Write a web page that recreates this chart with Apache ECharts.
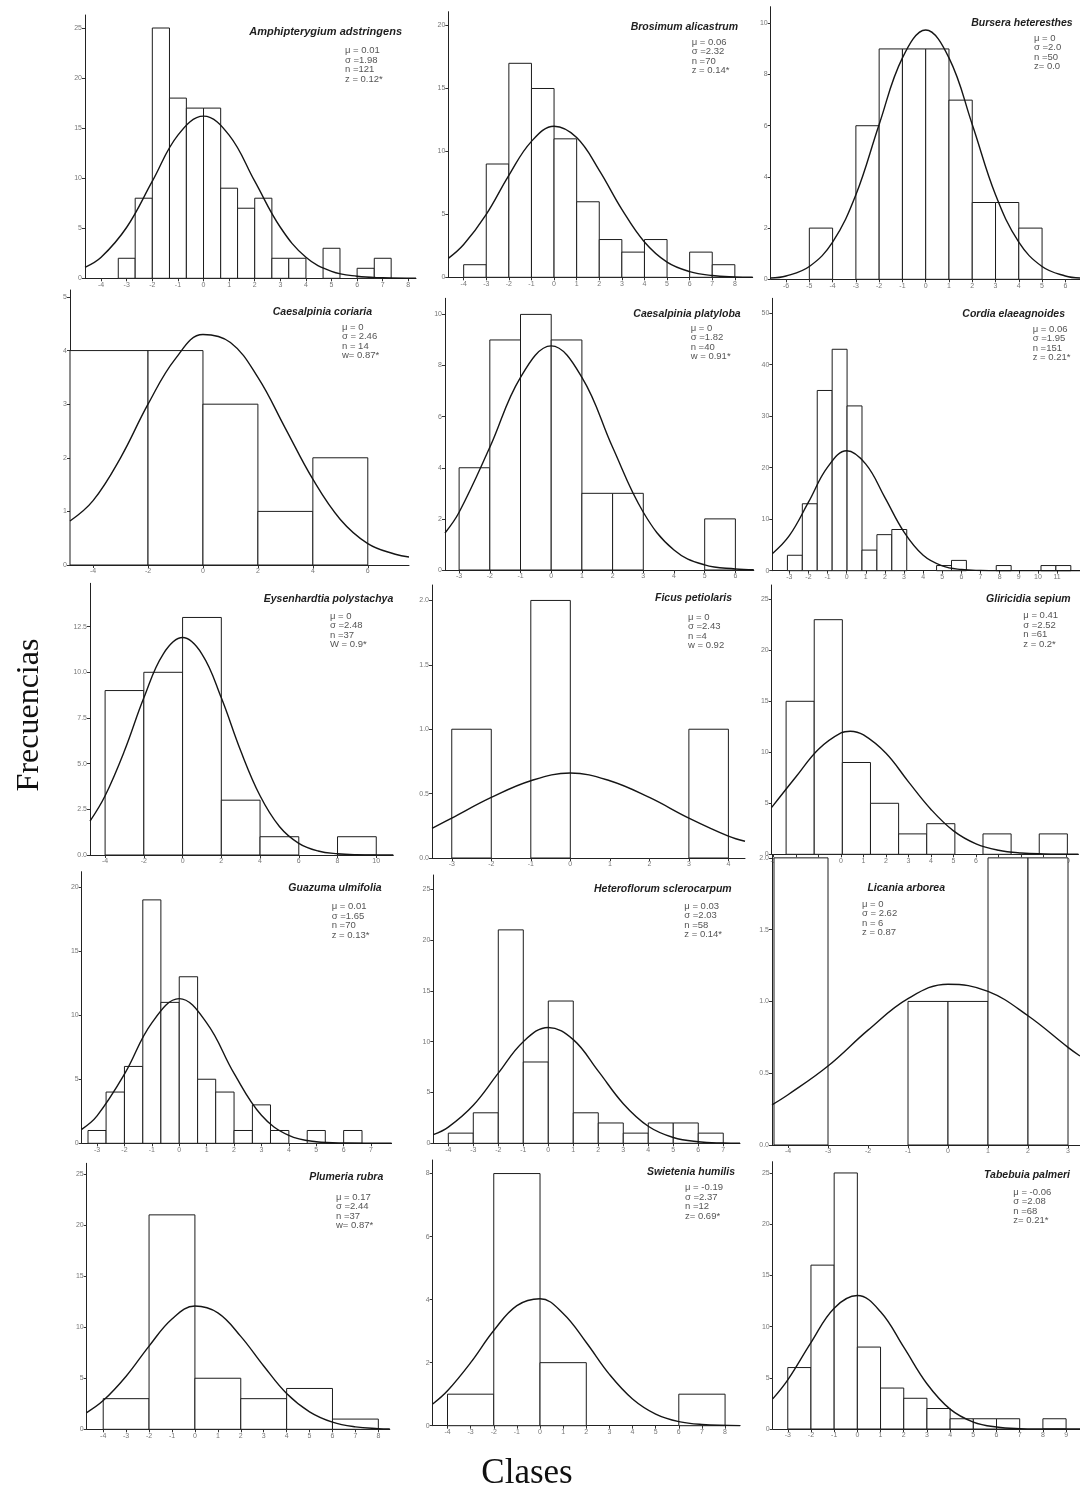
<!DOCTYPE html>
<html>
<head>
<meta charset="utf-8">
<script src="https://cdn.jsdelivr.net/npm/echarts@6/dist/echarts.min.js"></script>
<style>
html, body { margin: 0; padding: 0; background: #fff; }
#chart { width: 1080px; height: 1490px; }
</style>
</head>
<body>
<div id="chart"></div>
<script>
// species names and the fitted stats printed in each panel
const names = ['Amphipterygium adstringens', 'Brosimum alicastrum', 'Bursera heteresthes',
  'Caesalpinia coriaria', 'Caesalpinia platyloba', 'Cordia elaeagnoides',
  'Eysenhardtia polystachya', 'Ficus petiolaris', 'Gliricidia sepium',
  'Guazuma ulmifolia', 'Heteroflorum sclerocarpum', 'Licania arborea',
  'Plumeria rubra', 'Swietenia humilis', 'Tabebuia palmeri'];

const statLines = [
  ['μ = 0.01', 'σ =1.98', 'n =121', 'z = 0.12*'],
  ['μ = 0.06', 'σ =2.32', 'n =70', 'z = 0.14*'],
  ['μ = 0', 'σ =2.0', 'n =50', 'z= 0.0'],
  ['μ = 0', 'σ = 2.46', 'n = 14', 'w= 0.87*'],
  ['μ = 0', 'σ =1.82', 'n =40', 'w = 0.91*'],
  ['μ = 0.06', 'σ =1.95', 'n =151', 'z = 0.21*'],
  ['μ = 0', 'σ =2.48', 'n =37', 'W = 0.9*'],
  ['μ = 0', 'σ =2.43', 'n =4', 'w = 0.92'],
  ['μ = 0.41', 'σ =2.52', 'n =61', 'z = 0.2*'],
  ['μ = 0.01', 'σ =1.65', 'n =70', 'z = 0.13*'],
  ['μ = 0.03', 'σ =2.03', 'n =58', 'z = 0.14*'],
  ['μ = 0', 'σ = 2.62', 'n = 6', 'z = 0.87'],
  ['μ = 0.17', 'σ =2.44', 'n =37', 'w= 0.87*'],
  ['μ = -0.19', 'σ =2.37', 'n =12', 'z= 0.69*'],
  ['μ = -0.06', 'σ =2.08', 'n =68', 'z= 0.21*']
];

// histogram class edges and counts
const amphEdges = [-3.33, -2.67, -2, -1.33, -0.67, 0, 0.67, 1.33, 2, 2.67, 3.33, 4, 4.67, 5.33, 6, 6.67, 7.33];
const amphCounts = [2, 8, 25, 18, 17, 17, 9, 7, 8, 2, 2, 0, 3, 0, 1, 2];
const brosEdges = [-4, -3, -2, -1, 0, 1, 2, 3, 4, 5, 6, 7, 8];
const brosCounts = [1, 9, 17, 15, 11, 6, 3, 2, 3, 0, 2, 1];
const bursEdges = [-5, -4, -3, -2, -1, 0, 1, 2, 3, 4, 5];
const bursCounts = [2, 0, 6, 9, 9, 9, 7, 3, 3, 2];
const coriEdges = [-4.84, -2, 0, 2, 4, 6];
const coriCounts = [4, 4, 3, 1, 2];
const platEdges = [-3, -2, -1, 0, 1, 2, 3, 4, 5, 6];
const platCounts = [4, 9, 10, 9, 3, 3, 0, 0, 2];
const cordEdges = [-3.1, -2.32, -1.54, -0.76, 0.02, 0.8, 1.58, 2.36, 3.14, 3.92, 4.7, 5.48, 6.26, 7.04, 7.82, 8.6, 9.38, 10.16, 10.94, 11.72];
const cordCounts = [3, 13, 35, 43, 32, 4, 7, 8, 0, 0, 1, 2, 0, 0, 1, 0, 0, 1, 1];
const eyseEdges = [-4, -2, 0, 2, 4, 6, 8, 10];
const eyseCounts = [9, 10, 13, 3, 1, 0, 1];
const ficuEdges = [-3, -2, -1, 0, 1, 2, 3, 4];
const ficuCounts = [1, 0, 2, 0, 0, 0, 1];
const gliEdges = [-2.44, -1.19, 0.06, 1.31, 2.56, 3.81, 5.06, 6.31, 7.56, 8.81, 10.06];
const gliCounts = [15, 23, 9, 5, 2, 3, 0, 2, 0, 2];
const guazEdges = [-3.33, -2.67, -2, -1.33, -0.67, 0, 0.67, 1.33, 2, 2.67, 3.33, 4, 4.67, 5.33, 6, 6.67];
const guazCounts = [1, 4, 6, 19, 11, 13, 5, 4, 1, 3, 1, 0, 1, 0, 1];
const hetEdges = [-4, -3, -2, -1, 0, 1, 2, 3, 4, 5, 6, 7];
const hetCounts = [1, 3, 21, 8, 14, 3, 2, 1, 2, 2, 1];
const licEdges = [-4.35, -3, -2, -1, 0, 1, 2, 3];
const licCounts = [2, 0, 0, 1, 1, 2, 2];
const pluEdges = [-4, -2, 0, 2, 4, 6, 8];
const pluCounts = [3, 21, 5, 3, 4, 1];
const swiEdges = [-4, -2, 0, 2, 4, 6, 8];
const swiCounts = [1, 8, 2, 0, 0, 1];
const tabEdges = [-3, -2, -1, 0, 1, 2, 3, 4, 5, 6, 7, 8, 9];
const tabCounts = [6, 16, 25, 8, 4, 3, 2, 1, 1, 1, 0, 1];

// normal curve points (x, frequency)
const amphCurve = [[-4.63, 1.1], [-4, 2.1], [-3, 5.1], [-2, 9.7], [-1, 14.3], [0, 16.2], [1, 14.3], [2, 9.7], [3, 5.1], [4, 2.1], [5, 0.7], [6, 0.2], [7, 0.05], [8.3, 0]];
const brosCurve = [[-4.68, 1.5], [-4, 2.6], [-3, 5.0], [-2, 8.1], [-1, 10.8], [0, 12.0], [1, 11.1], [2, 8.5], [3, 5.4], [4, 2.8], [5, 1.2], [6, 0.45], [7, 0.14], [8, 0.03], [8.79, 0]];
const bursCurve = [[-6.66, 0.05], [-6, 0.13], [-5, 0.5], [-4, 1.45], [-3, 3.3], [-2, 6.05], [-1, 8.65], [0, 9.74], [1, 8.65], [2, 6.05], [3, 3.3], [4, 1.45], [5, 0.5], [6, 0.13], [6.63, 0.05]];
const coriCurve = [[-4.84, 0.82], [-4, 1.2], [-3, 2.0], [-2, 3.0], [-1, 3.85], [0, 4.3], [1, 4.15], [2, 3.5], [3, 2.55], [4, 1.6], [5, 0.85], [6, 0.4], [7, 0.2], [7.5, 0.15]];
const platCurve = [[-3.46, 1.45], [-3, 2.26], [-2, 4.8], [-1, 7.54], [0, 8.77], [1, 7.54], [2, 4.8], [3, 2.26], [4, 0.78], [5, 0.2], [6, 0.04], [6.6, 0.01]];
const cordCurve = [[-3.89, 3.3], [-3, 6.8], [-2, 13.3], [-1, 20.1], [0, 23.3], [1, 20.7], [2, 14.2], [3, 7.5], [4, 3.0], [5, 0.94], [6, 0.23], [7, 0.04], [8, 0], [12.2, 0]];
const eyseCurve = [[-4.78, 1.85], [-4, 3.24], [-3, 5.7], [-2, 8.6], [-1, 11.0], [0, 11.9], [1, 11.0], [2, 8.6], [3, 5.7], [4, 3.24], [5, 1.56], [6, 0.64], [7, 0.22], [8, 0.07], [9, 0.02], [10.88, 0]];
const ficuCurve = [[-3.5, 0.23], [-3, 0.31], [-2, 0.47], [-1, 0.6], [0, 0.66], [1, 0.6], [2, 0.47], [3, 0.31], [4, 0.17], [4.42, 0.13]];
const gliCurve = [[-3.08, 4.6], [-2, 7.6], [-1, 10.3], [0, 11.9], [0.41, 12.07], [1, 11.7], [2, 9.9], [3, 7.1], [4, 4.4], [5, 2.3], [6, 1.03], [7, 0.4], [8, 0.13], [9, 0.04], [10.55, 0]];
const guazCurve = [[-3.56, 1.09], [-3, 2.14], [-2, 5.4], [-1, 9.4], [0, 11.29], [1, 9.4], [2, 5.46], [3, 2.19], [4, 0.61], [5, 0.12], [6, 0.02], [7.75, 0]];
const hetCurve = [[-4.6, 0.85], [-4, 1.59], [-3, 3.74], [-2, 6.9], [-1, 10.0], [0, 11.4], [1, 10.2], [2, 7.1], [3, 3.9], [4, 1.68], [5, 0.57], [6, 0.15], [7, 0.03], [7.67, 0.01]];
const licCurve = [[-4.4, 0.28], [-4, 0.35], [-3, 0.55], [-2, 0.8], [-1, 1.02], [0, 1.12], [1, 1.07], [2, 0.9], [3, 0.68], [3.3, 0.62]];
const pluCurve = [[-4.72, 1.64], [-4, 2.81], [-3, 5.2], [-2, 8.15], [-1, 10.8], [0, 12.07], [1, 11.4], [2, 9.1], [3, 6.2], [4, 3.5], [5, 1.71], [6, 0.7], [7, 0.24], [8, 0.07], [8.5, 0.04]];
const swiCurve = [[-4.64, 0.69], [-4, 1.11], [-3, 2.0], [-2, 3.02], [-1, 3.81], [0, 4.03], [1, 3.56], [2, 2.64], [3, 1.63], [4, 0.85], [5, 0.37], [6, 0.13], [7, 0.04], [8.65, 0]];
const tabCurve = [[-3.65, 2.94], [-3, 4.8], [-2, 8.44], [-1, 11.8], [0, 13.03], [1, 11.45], [2, 7.99], [3, 4.42], [4, 1.94], [5, 0.68], [6, 0.19], [7, 0.04], [8, 0.01], [9.6, 0]];

// tick values
const xTicks = [
  [-4, -3, -2, -1, 0, 1, 2, 3, 4, 5, 6, 7, 8],
  [-4, -3, -2, -1, 0, 1, 2, 3, 4, 5, 6, 7, 8],
  [-6, -5, -4, -3, -2, -1, 0, 1, 2, 3, 4, 5, 6],
  [-4, -2, 0, 2, 4, 6],
  [-3, -2, -1, 0, 1, 2, 3, 4, 5, 6],
  [-3, -2, -1, 0, 1, 2, 3, 4, 5, 6, 7, 8, 9, 10, 11],
  [-4, -2, 0, 2, 4, 6, 8, 10],
  [-3, -2, -1, 0, 1, 2, 3, 4],
  [-3, -2, -1, 0, 1, 2, 3, 4, 5, 6, 7, 8, 9, 10],
  [-3, -2, -1, 0, 1, 2, 3, 4, 5, 6, 7],
  [-4, -3, -2, -1, 0, 1, 2, 3, 4, 5, 6, 7],
  [-4, -3, -2, -1, 0, 1, 2, 3],
  [-4, -3, -2, -1, 0, 1, 2, 3, 4, 5, 6, 7, 8],
  [-4, -3, -2, -1, 0, 1, 2, 3, 4, 5, 6, 7, 8],
  [-3, -2, -1, 0, 1, 2, 3, 4, 5, 6, 7, 8, 9]
];
const yTicks = [
  [0, 5, 10, 15, 20, 25],
  [0, 5, 10, 15, 20],
  [0, 2, 4, 6, 8, 10],
  [0, 1, 2, 3, 4, 5],
  [0, 2, 4, 6, 8, 10],
  [0, 10, 20, 30, 40, 50],
  [0, 2.5, 5, 7.5, 10, 12.5],
  [0, 0.5, 1, 1.5, 2],
  [0, 5, 10, 15, 20, 25],
  [0, 5, 10, 15, 20],
  [0, 5, 10, 15, 20, 25],
  [0, 0.5, 1, 1.5, 2],
  [0, 5, 10, 15, 20, 25],
  [0, 2, 4, 6, 8],
  [0, 5, 10, 15, 20, 25]
];
const yDecimals = [0, 0, 0, 0, 0, 0, 1, 1, 0, 0, 0, 1, 0, 0, 0];

const edges = [amphEdges, brosEdges, bursEdges, coriEdges, platEdges, cordEdges, eyseEdges, ficuEdges, gliEdges, guazEdges, hetEdges, licEdges, pluEdges, swiEdges, tabEdges];
const counts = [amphCounts, brosCounts, bursCounts, coriCounts, platCounts, cordCounts, eyseCounts, ficuCounts, gliCounts, guazCounts, hetCounts, licCounts, pluCounts, swiCounts, tabCounts];
const curves = [amphCurve, brosCurve, bursCurve, coriCurve, platCurve, cordCurve, eyseCurve, ficuCurve, gliCurve, guazCurve, hetCurve, licCurve, pluCurve, swiCurve, tabCurve];

// panel layout: plot box in px, axis ranges, title / stats anchor
const layout = [
  { l: 85, t: 15, w: 331, h: 263.3, x0: -4.63, x1: 8.3, y1: 26.3, tx: 402, ty: 32, sx: 345, sy: 50.7 },
  { l: 448.3, t: 11.7, w: 304.4, h: 265.6, x0: -4.68, x1: 8.79, y1: 21.1, tx: 738, ty: 26.7, sx: 691.7, sy: 42.3 },
  { l: 770.7, t: 6.7, w: 309.7, h: 272.6, x0: -6.66, x1: 6.63, y1: 10.65, tx: 1072.7, ty: 23.3, sx: 1034, sy: 38.3 },
  { l: 70, t: 290, w: 339, h: 275, x0: -4.84, x1: 7.5, y1: 5.13, tx: 372, ty: 312, sx: 342, sy: 327 },
  { l: 445, t: 298.3, w: 308.8, h: 271.7, x0: -3.46, x1: 6.6, y1: 10.63, tx: 740.7, ty: 314.3, sx: 690.7, sy: 328 },
  { l: 772.3, t: 298.3, w: 308, h: 272.4, x0: -3.89, x1: 12.2, y1: 52.9, tx: 1065, ty: 314.3, sx: 1032.7, sy: 329.3 },
  { l: 90, t: 583.3, w: 303.3, h: 271.7, x0: -4.78, x1: 10.88, y1: 14.87, tx: 393.3, ty: 599, sx: 330, sy: 616 },
  { l: 432, t: 585, w: 313, h: 273, x0: -3.5, x1: 4.42, y1: 2.12, tx: 732, ty: 598, sx: 688, sy: 617 },
  { l: 771.7, t: 585, w: 306.7, h: 269.3, x0: -3.08, x1: 10.55, y1: 26.4, tx: 1070.7, ty: 599, sx: 1023.3, sy: 615.7 },
  { l: 81.7, t: 871.7, w: 309.9, h: 271.6, x0: -3.56, x1: 7.75, y1: 21.2, tx: 381.7, ty: 888.3, sx: 331.7, sy: 906.7 },
  { l: 433.3, t: 875, w: 306.7, h: 268.3, x0: -4.6, x1: 7.67, y1: 26.4, tx: 731.7, ty: 889, sx: 684.3, sy: 906 },
  { l: 772, t: 855, w: 308, h: 290, x0: -4.4, x1: 3.3, y1: 2.02, tx: 945, ty: 888, sx: 862, sy: 904 },
  { l: 86.7, t: 1163.3, w: 303.1, h: 266, x0: -4.72, x1: 8.5, y1: 26.05, tx: 383.3, ty: 1176.7, sx: 336, sy: 1197.3 },
  { l: 432.7, t: 1160, w: 307.4, h: 265.7, x0: -4.64, x1: 8.65, y1: 8.43, tx: 735, ty: 1172.3, sx: 685, sy: 1187.7 },
  { l: 772.7, t: 1161.7, w: 307.4, h: 267.3, x0: -3.65, x1: 9.6, y1: 26.1, tx: 1070, ty: 1175, sx: 1013.3, sy: 1192.3 }
];

const chart = echarts.init(document.getElementById('chart'), null, { renderer: 'canvas' });

const grids = [], xAxes = [], yAxes = [], series = [], graphics = [];
const lineH = 9.5;

function renderBar(params, api) {
  const a = api.coord([api.value(0), api.value(2)]);
  const b = api.coord([api.value(1), 0]);
  return {
    type: 'rect',
    shape: { x: a[0], y: a[1], width: b[0] - a[0], height: b[1] - a[1] },
    style: { fill: '#fff', stroke: '#1c1c1c', lineWidth: 1 }
  };
}

layout.forEach(function (p, i) {
  grids.push({ left: p.l, top: p.t, width: p.w, height: p.h });
  xAxes.push({
    gridIndex: i, type: 'value', min: p.x0, max: p.x1,
    axisLine: { onZero: false, lineStyle: { color: '#222', width: 1 } },
    axisTick: { customValues: xTicks[i], length: 3, lineStyle: { color: '#333' } },
    axisLabel: { customValues: xTicks[i], fontSize: 7, color: '#777', margin: 3, fontFamily: 'Liberation Sans' },
    splitLine: { show: false }
  });
  const dec = yDecimals[i];
  yAxes.push({
    gridIndex: i, type: 'value', min: 0, max: p.y1,
    axisLine: { show: true, onZero: false, lineStyle: { color: '#222', width: 1 } },
    axisTick: { show: true, customValues: yTicks[i], length: 3, lineStyle: { color: '#333' } },
    axisLabel: {
      customValues: yTicks[i], fontSize: 7, color: '#777', margin: 3, fontFamily: 'Liberation Sans',
      formatter: function (v) { return v.toFixed(dec); }
    },
    splitLine: { show: false }
  });

  const bars = [];
  counts[i].forEach(function (c, k) {
    if (c > 0) bars.push([edges[i][k], edges[i][k + 1], c]);
  });
  series.push({
    type: 'custom', xAxisIndex: i, yAxisIndex: i,
    data: bars, encode: { x: [0, 1], y: 2 },
    renderItem: renderBar, silent: true, z: 2
  });
  series.push({
    type: 'line', xAxisIndex: i, yAxisIndex: i,
    data: curves[i], showSymbol: false, smooth: 0.4, silent: true, z: 3,
    lineStyle: { color: '#151515', width: 1.4 }
  });

  graphics.push({
    type: 'text', x: p.tx, y: p.ty, silent: true,
    style: {
      text: names[i], textAlign: 'right', textVerticalAlign: 'middle',
      font: 'italic bold ' + (i === 0 ? 11 : 10.5) + 'px "Liberation Sans"', fill: '#1e1e1e'
    }
  });
  graphics.push({
    type: 'text', x: p.sx, y: p.sy - lineH / 2, silent: true,
    style: {
      text: statLines[i].join('\n'), textAlign: 'left', textVerticalAlign: 'top',
      font: '9.5px "Liberation Sans"', lineHeight: lineH, fill: '#555'
    }
  });
});

graphics.push({
  type: 'text', x: 30, y: 715, rotation: Math.PI / 2, silent: true,
  style: { text: 'Frecuencias', textAlign: 'center', textVerticalAlign: 'middle', font: '32px "Liberation Serif"', fill: '#111' }
});
graphics.push({
  type: 'text', x: 527, y: 1474, silent: true,
  style: { text: 'Clases', textAlign: 'center', textVerticalAlign: 'middle', font: '35px "Liberation Serif"', fill: '#111' }
});

chart.setOption({
  animation: false,
  backgroundColor: '#fff',
  grid: grids,
  xAxis: xAxes,
  yAxis: yAxes,
  series: series,
  graphic: graphics
});
</script>
</body>
</html>
